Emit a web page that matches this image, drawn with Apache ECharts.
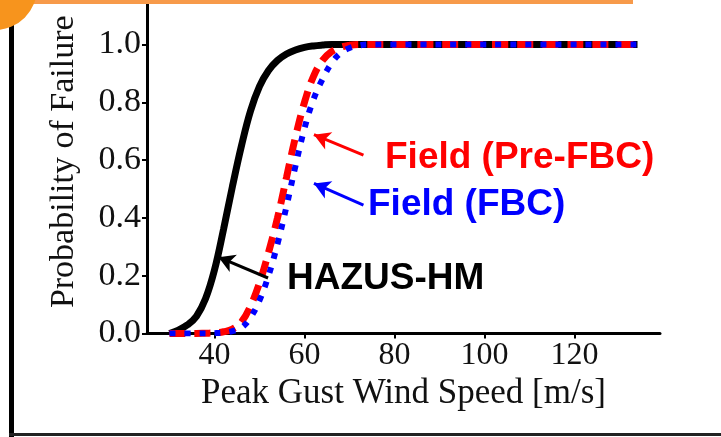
<!DOCTYPE html>
<html>
<head>
<meta charset="utf-8">
<script src="https://cdn.jsdelivr.net/npm/echarts@6/dist/echarts.min.js"></script>
<style>html,body{margin:0;padding:0;background:#fff;}#c{width:721px;height:437px;}</style>
</head>
<body>
<div id="c"></div>
<script>
// ---- data ----
const xTicks = [40, 60, 80, 100, 120];
const yTicks = [0, 0.2, 0.4, 0.6, 0.8, 1.0];

const hazusSpeed = [30, 32, 34, 36, 38, 40, 42, 44, 46, 48, 50, 52, 54, 56, 58, 60, 62, 64, 66, 70, 80, 100, 134];
const hazusProb  = [0, 0.012, 0.03, 0.06, 0.12, 0.22, 0.36, 0.51, 0.65, 0.77, 0.855, 0.91, 0.945, 0.967, 0.981, 0.99, 0.995, 0.998, 1, 1, 1, 1, 1];

const preFbcSpeed = [30, 32, 34, 36, 38, 40, 42, 44, 46, 48, 50, 52, 54, 56, 58, 60, 62, 64, 66, 68, 70, 72, 76, 80, 100, 134];
const preFbcProb  = [0, 0, 0, 0, 0.001, 0.002, 0.006, 0.015, 0.04, 0.095, 0.175, 0.28, 0.4, 0.54, 0.68, 0.8, 0.89, 0.945, 0.975, 0.99, 0.997, 1, 1, 1, 1, 1];

const fbcSpeed = [30, 32, 34, 36, 38, 40, 42, 44, 46, 48, 50, 52, 54, 56, 58, 60, 62, 64, 66, 68, 70, 72, 74, 78, 80, 100, 134];
const fbcProb  = [0, 0, 0, 0, 0, 0.001, 0.003, 0.008, 0.02, 0.055, 0.115, 0.2, 0.31, 0.44, 0.58, 0.71, 0.81, 0.88, 0.935, 0.97, 0.988, 0.996, 1, 1, 1, 1, 1];

// arrows (tail -> head) in data coordinates
const arrowPre   = [[73.1, 0.617], [62.1, 0.688]];
const arrowFbc   = [[73.1, 0.444], [62.1, 0.519]];
const arrowHazus = [[51.9, 0.192], [40.9, 0.264]];

const pairs = (xs, ys) => xs.map((x, i) => [x, ys[i]]);

const chart = echarts.init(document.getElementById('c'), null, {renderer: 'canvas'});
const serif = '"Liberation Serif", "Times New Roman", serif';
const sans = '"Liberation Sans", Arial, sans-serif';

function arrowLine(pts, color) {
  return {
    silent: true,
    symbol: ['none', 'arrow'],
    symbolSize: [14, 16],
    label: {show: false},
    lineStyle: {color: color, width: 3, type: 'solid'},
    data: [[{coord: pts[0]}, {coord: pts[1]}]],
    animation: false
  };
}

chart.setOption({
  animation: false,
  backgroundColor: '#ffffff',
  grid: {left: 147, right: 61, top: 4, bottom: 103.5, containLabel: false},
  xAxis: {
    type: 'value', min: 25, max: 139,
    name: 'Peak Gust Wind Speed [m/s]', nameLocation: 'middle', nameGap: 36,
    nameTextStyle: {fontFamily: serif, fontSize: 35, color: '#111'},
    axisLine: {show: true, onZero: false, lineStyle: {color: '#000', width: 3}},
    axisTick: {show: true, length: 5, lineStyle: {color: '#000', width: 2}, customValues: xTicks},
    axisLabel: {fontFamily: serif, fontSize: 32, color: '#111', margin: 6, customValues: xTicks},
    splitLine: {show: false}
  },
  yAxis: {
    type: 'value', min: 0, max: 1.14,
    name: 'Probability of Failure', nameLocation: 'middle', nameGap: 66, nameRotate: 90,
    nameTextStyle: {fontFamily: serif, fontSize: 34, color: '#111', padding: [0, 0, 0, 14]},
    axisLine: {show: true, lineStyle: {color: '#000', width: 3}},
    axisTick: {show: true, length: 5, lineStyle: {color: '#000', width: 2}, customValues: yTicks},
    axisLabel: {fontFamily: serif, fontSize: 34, color: '#111', margin: 6, customValues: yTicks,
                formatter: v => v.toFixed(1)},
    splitLine: {show: false}
  },
  series: [
    {
      name: 'HAZUS-HM', type: 'line', data: pairs(hazusSpeed, hazusProb),
      showSymbol: false, smooth: 0.4,
      lineStyle: {color: '#000', width: 7},
      markLine: arrowLine(arrowHazus, '#000'), z: 2
    },
    {
      name: 'Field (Pre-FBC)', type: 'line', data: pairs(preFbcSpeed, preFbcProb),
      showSymbol: false, smooth: 0.4,
      lineStyle: {color: '#ff0000', width: 7, type: [16, 9]},
      markLine: arrowLine(arrowPre, '#ff0000'), z: 3
    },
    {
      name: 'Field (FBC)', type: 'line', data: pairs(fbcSpeed, fbcProb),
      showSymbol: false, smooth: 0.4,
      lineStyle: {color: '#0000ff', width: 6, type: [6, 9]},
      markLine: arrowLine(arrowFbc, '#0000ff'), z: 4
    }
  ],
  graphic: [
    {type: 'rect', shape: {x: 0, y: 0, width: 633, height: 4}, style: {fill: '#f79a4a'}, z: 10},
    {type: 'rect', shape: {x: 9, y: 0, width: 5, height: 437}, style: {fill: '#000'}, z: 9},
    {type: 'rect', shape: {x: 9, y: 433, width: 712, height: 3}, style: {fill: '#222'}, z: 9},
    {type: 'circle', shape: {cx: -5, cy: -12, r: 42}, style: {fill: '#f7941d'}, z: 11},
    {type: 'text', style: {x: 385, y: 158, text: 'Field (Pre-FBC)', font: 'bold 37px ' + sans, fill: '#ff0000', verticalAlign: 'middle'}, z: 12},
    {type: 'text', style: {x: 368, y: 205, text: 'Field (FBC)', font: 'bold 37px ' + sans, fill: '#0000ff', verticalAlign: 'middle'}, z: 12},
    {type: 'text', style: {x: 287, y: 279, text: 'HAZUS-HM', font: 'bold 37px ' + sans, fill: '#000', verticalAlign: 'middle'}, z: 12}
  ]
});
</script>
</body>
</html>
